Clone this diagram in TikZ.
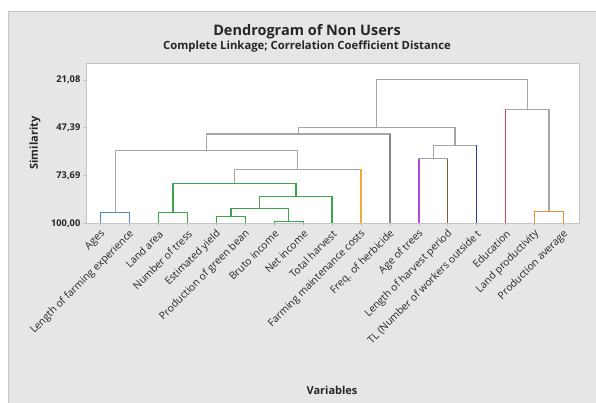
\documentclass[tikz,border=0pt]{standalone}
\usepackage{fontspec}
\setmainfont{Open Sans}
\usepackage{tikz}
\definecolor{panelgray}{HTML}{E6E6E6}
\definecolor{framegray}{HTML}{C4C4C4}
\definecolor{linkgray}{HTML}{A6A6A6}
\definecolor{herbgray}{HTML}{858585}
\definecolor{cblue}{HTML}{4F86C6}
\definecolor{cgreen}{HTML}{3AA64B}
\definecolor{corange}{HTML}{F2A93B}
\definecolor{cpurple}{HTML}{B44BE1}
\definecolor{cbrown}{HTML}{8C5A32}
\definecolor{cnavy}{HTML}{313A9A}
\definecolor{cred}{HTML}{C0504D}
\definecolor{corange2}{HTML}{EE8F35}
\definecolor{txt}{HTML}{262626}

\begin{document}
\begin{tikzpicture}[x=1pt, y=-1pt, line width=1.3pt,
                    link/.style = {draw=linkgray},
                    leaflab/.style = {xshift=3pt, yshift=-8.5pt, rotate=45, anchor=east,
                                      inner sep=0pt, text=txt, font=\fontsize{10.3}{11}\selectfont},
                    ticklab/.style = {anchor=east, inner sep=0pt, text=txt,
                                      font=\fontsize{9.3}{10}\selectfont\bfseries},
                    axlab/.style = {text=txt, font=\fontsize{11}{12}\selectfont\bfseries}]
    \useasboundingbox (0,0) rectangle (596,403);
    \fill[panelgray] (8,11) rectangle (596,403);
    \draw[framegray, line width=0.8pt] (8,403) -- (8,11) -- (596,11);
    \draw[framegray, line width=1pt, fill=white] (86,63.3) rectangle (579,223.3);

    % titles
    \node[text=txt, font=\fontsize{14.5}{16}\selectfont\bfseries] (title) at (307,31.5) {Dendrogram of Non Users};
    \node[text=txt, font=\fontsize{11.3}{12}\selectfont\bfseries] (subtitle) at (307,47) {Complete Linkage; Correlation Coefficient Distance};
    \node[axlab, rotate=90] (ylab) at (35,143) {Similarity};
    \node[axlab] (xlab) at (332,390) {Variables};

    % similarity axis
    \node[ticklab] (s1) at (81,80) {21,08};
    \node[ticklab] (s2) at (81,127.7) {47,39};
    \node[ticklab] (s3) at (81,175.7) {73,69};
    \node[ticklab] (s4) at (81,223.3) {100,00};
    \draw[framegray, line width=0.8pt] (83,80) -- (86,80) (83,127.7) -- (86,127.7)
        (83,175.7) -- (86,175.7) (83,223.3) -- (86,223.3);

    % leaves
    \coordinate (ages) at (100.7,223.3);
    \coordinate (lfe) at (129.6,223.3);
    \coordinate (land) at (158.6,223.3);
    \coordinate (tress) at (187.5,223.3);
    \coordinate (yield) at (216.4,223.3);
    \coordinate (bean) at (245.3,223.3);
    \coordinate (bruto) at (274.3,223.3);
    \coordinate (net) at (303.2,223.3);
    \coordinate (harvest) at (332.1,223.3);
    \coordinate (cost) at (361.1,223.3);
    \coordinate (herb) at (390,223.3);
    \coordinate (trees) at (418.9,223.3);
    \coordinate (period) at (447.8,223.3);
    \coordinate (tl) at (476.8,223.3);
    \coordinate (edu) at (505.7,223.3);
    \coordinate (lprod) at (534.6,223.3);
    \coordinate (pavg) at (563.6,223.3);

    % merges
    \coordinate (mAge) at (115.2,212.7);
    \coordinate (mLand) at (173,212.7);
    \coordinate (mYield) at (230.9,216.7);
    \coordinate (mInc) at (288.8,221.7);
    \coordinate (mProd) at (259.8,208.3);
    \coordinate (mHarv) at (296,196.7);
    \coordinate (mGreen) at (234.5,183.3);
    \coordinate (mCost) at (297.8,169.3);
    \coordinate (mLeft) at (206.5,150.7);
    \coordinate (mHerb) at (298.3,134);
    \coordinate (mTrees) at (433.4,158.7);
    \coordinate (mTl) at (455.1,145.3);
    \coordinate (mMid) at (376.7,127.7);
    \coordinate (mLprod) at (549.1,211.3);
    \coordinate (mEdu) at (527.4,109.3);
    \coordinate (mRoot) at (452,79.3);

    \draw[cblue] (ages) |- (mAge) -| (lfe);
    \draw[cgreen] (land) |- (mLand) -| (tress);
    \draw[cgreen] (yield) |- (mYield) -| (bean);
    \draw[cgreen] (bruto) |- (mInc) -| (net);
    \draw[cgreen] (mYield) |- (mProd) -| (mInc);
    \draw[cgreen] (mProd) |- (mHarv) -| (harvest);
    \draw[cgreen] (mLand) |- (mGreen) -| (mHarv);
    \draw[link] (mGreen) |- (mCost) -| (cost);
    \draw[link] (mAge) |- (mLeft) -| (mCost);
    \draw[link] (mLeft) |- (mHerb) -| (herb);
    \draw[link] (trees) |- (mTrees) -| (period);
    \draw[link] (mTrees) |- (mTl) -| (tl);
    \draw[link] (mHerb) |- (mMid) -| (mTl);
    \draw[corange2] (lprod) |- (mLprod) -| (pavg);
    \draw[link] (edu) |- (mEdu) -| (mLprod);
    \draw[link] (mMid) |- (mRoot) -| (mEdu);

    % coloured single leaves
    \draw[corange] (cost) -- (cost |- mCost);
    \draw[herbgray] (herb) -- (herb |- mHerb);
    \draw[cpurple] (trees) -- (trees |- mTrees);
    \draw[cbrown] (period) -- (period |- mTrees);
    \draw[cnavy] (tl) -- (tl |- mTl);
    \draw[cred] (edu) -- (edu |- mEdu);

    % axis line and ticks
    \draw[framegray, line width=1.6pt] (86,223.3) -- (579,223.3);
    \draw[framegray, line width=0.8pt] (ages) -- ++(0,3) (lfe) -- ++(0,3) (land) -- ++(0,3)
        (tress) -- ++(0,3) (yield) -- ++(0,3) (bean) -- ++(0,3) (bruto) -- ++(0,3)
        (net) -- ++(0,3) (harvest) -- ++(0,3) (cost) -- ++(0,3) (herb) -- ++(0,3)
        (trees) -- ++(0,3) (period) -- ++(0,3) (tl) -- ++(0,3) (edu) -- ++(0,3)
        (lprod) -- ++(0,3) (pavg) -- ++(0,3);

    % variable names
    \node[leaflab] (tAges) at (ages) {Ages};
    \node[leaflab] (tLfe) at (lfe) {Length of farming experience};
    \node[leaflab] (tLand) at (land) {Land area};
    \node[leaflab] (tTress) at (tress) {Number of tress};
    \node[leaflab] (tYield) at (yield) {Estimated yield};
    \node[leaflab] (tBean) at (bean) {Production of green bean};
    \node[leaflab] (tBruto) at (bruto) {Bruto income};
    \node[leaflab] (tNet) at (net) {Net income};
    \node[leaflab] (tHarvest) at (harvest) {Total harvest};
    \node[leaflab] (tCost) at (cost) {Farming maintenance costs};
    \node[leaflab] (tHerb) at (herb) {Freq. of herbicide};
    \node[leaflab] (tTrees) at (trees) {Age of trees};
    \node[leaflab] (tPeriod) at (period) {Length of harvest period};
    \node[leaflab] (tTl) at (tl) {TL (Number of workers outside t};
    \node[leaflab] (tEdu) at (edu) {Education};
    \node[leaflab] (tLprod) at (lprod) {Land productivity};
    \node[leaflab] (tPavg) at (pavg) {Production average};
\end{tikzpicture}
\end{document}
